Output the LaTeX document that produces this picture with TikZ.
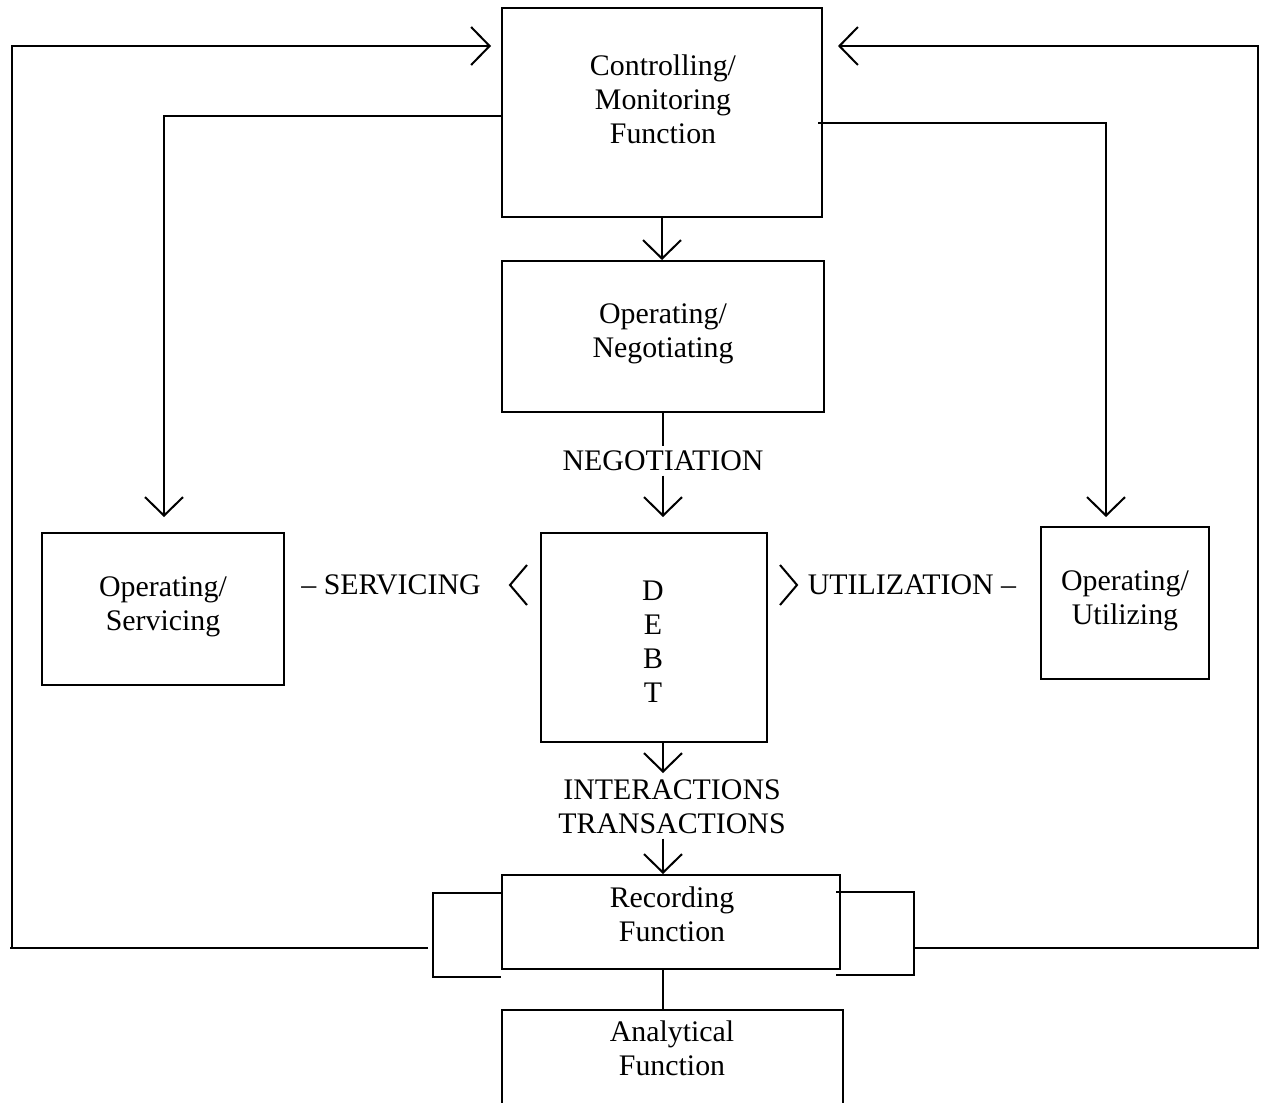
\documentclass[tikz,border=0pt]{standalone}
\usepackage{fontspec}
\setmainfont{Liberation Serif}
\usepackage{tikz}
\usetikzlibrary{arrows.meta}
\usetikzlibrary{fit}

\tikzset{
	txt/.style={align=center, inner sep=0pt, font=\fontsize{17}{19.4}\selectfont},
	lab/.style={txt, inner sep=2pt},
	openarrow/.style={-{Straight Barb[length=0.37cm, width=0.76cm]}}
}

\begin{document}
\begin{tikzpicture}[x=0.02cm, y=-0.02cm, line width=1.15pt]
		\useasboundingbox (0,0) rectangle (1263,1102);
		\clip (0,0) rectangle (1263,1102);
		% boxes
		\foreach \nm/\xa/\ya/\xb/\yb in{
				ctrl/502/8/822/217,
				neg/502/261/824/412,
				debt/541/533/767/742,
				serv/42/533/284/685,
				util/1041/527/1209/679,
				rec/502/875/840/969,
				ana/502/1010/843/1130
		}{
		\node[draw, fit={(\xa,\ya)(\xb,\yb)}, inner sep = 0 pt](\nm){};
		}
		% texts
		\node[txt](ctrltxt) at (663,99) {Controlling/\\Monitoring\\Function};
		\node[txt](negtxt) at (663,334) {Operating/\\Negotiating};
		\node[txt](debttxt) at (653,642) {D\\E\\B\\T};
		\node[txt](servtxt) at (163,607) {Operating/\\Servicing};
		\node[txt](utiltxt) at (1125,601) {Operating/\\Utilizing};
		\node[txt](rectxt) at (672,914) {Recording\\Function};
		\node[txt](anatxt) at (672,1048) {Analytical\\Function};
		\node[lab](negolab) at (663,461) {NEGOTIATION};
		\node[lab](servlab) at (391,585) {\textendash\ SERVICING};
		\node[lab](utillab) at (912,585) {UTILIZATION \textendash};
		\node[lab](translab) at (672,807) {INTERACTIONS\\TRANSACTIONS};
		% points
		\coordinate (spine) at (663,0);
		\coordinate (negend) at (663,517);
		\coordinate (transend) at (663,773);
		\coordinate (servtip) at (164,517);
		\coordinate (utiltip) at (1106,517);
		\coordinate (ltip) at (491,46);
		\coordinate (rtip) at (838,46);
		\coordinate (lbr) at (433,948);
		\coordinate (rbr) at (914,948);
		% middle line
		\draw[openarrow] (ctrl.south) -- (ctrl.south |- neg.north);
		\draw (neg.south) -- (negolab.north);
		\draw[openarrow] (negolab.south) -- (negend);
		\draw[openarrow] (spine |- debt.south) -- (transend);
		\draw[openarrow] (spine |- translab.south) -- (spine |- rec.north);
		\draw (spine |- rec.south) -- (spine |- ana.north);
		% to the sides
		\draw[openarrow] (ctrl.west |- 0,116) -| (servtip);
		\draw[openarrow] (818,123) -| (utiltip);
		\draw (527,565) -- (510,585) -- (527,605);
		\draw (780,565) -- (797,585) -- (780,605);
		% feedback
		\draw (rec.west |- 0,893) -| (lbr) |- (ana.west |- 0,977);
		\draw (836,892) -| (rbr) |- (836,975);
		\draw[openarrow] (428,948) -- (10,948) -- (12,948) |- (ltip);
		\draw[openarrow] (rbr) -- (1258,948) |- (rtip);
\end{tikzpicture}
\end{document}
